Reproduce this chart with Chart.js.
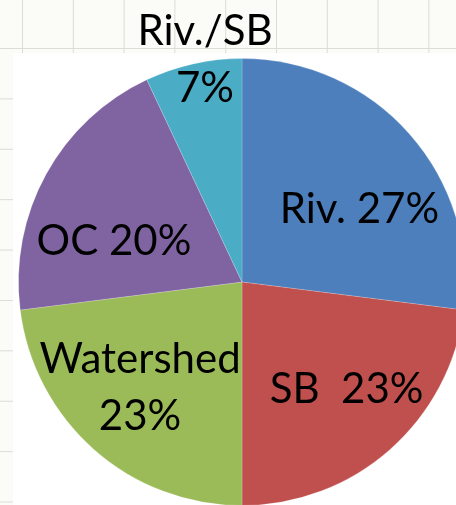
<!DOCTYPE html>
<html>
<head>
<meta charset="utf-8">
<script src="https://cdn.jsdelivr.net/npm/chart.js@4.4.0/dist/chart.umd.min.js"></script>
<style>
  html, body { margin: 0; padding: 0; width: 456px; height: 505px; overflow: hidden; }
  body {
    position: relative;
    background-color: #fbfbf8;
    background-image:
      linear-gradient(to right, #dcdcd6 1px, transparent 1px),
      linear-gradient(to bottom, #dcdcd6 1px, transparent 1px);
    background-size: 50.8px 50.4px;
    background-position: 22px 48px;
  }
  #panel { position: absolute; left: 13px; top: 53px; right: 0; bottom: 0; background: #ffffff; }
  #wrap { position: absolute; left: 0; top: 0; width: 484px; height: 564px; }
</style>
</head>
<body>
<div id="panel"></div>
<div id="wrap"><canvas id="myChart"></canvas></div>
<script>
// slices, clockwise from 12 o'clock
const categories = ['Riv.', 'SB', 'Watershed', 'OC', 'Riv./SB'];
const shares = [27, 23, 23, 20, 7];
// text as it appears on each slice
const sliceText = [['Riv. 27%'], ['SB  23%'], ['Watershed', '23%'], ['OC 20%'], ['Riv./SB', '7%']];

const sliceColors = ['#4c7fbc', '#c0504d', '#9bbb59', '#8064a2', '#4bacc6'];
// where the label sits: fraction of radius, and turn (deg) from the slice middle
const labelDist = [0.62, 0.665, 0.652, 0.603, 1.013];
const labelTurn = [9.3, -3.3, 3, -10.6, 3.2];

const sliceLabels = {
  id: 'sliceLabels',
  afterDatasetsDraw(chart) {
    const ctx = chart.ctx;
    const arcs = chart.getDatasetMeta(0).data;
    const size = 42;
    const lineH = 57;
    ctx.save();
    ctx.font = size + 'px Lato';
    ctx.fillStyle = '#000000';
    ctx.textAlign = 'center';
    ctx.textBaseline = 'alphabetic';
    arcs.forEach(function(arc, i){
      const p = arc.getProps(['x', 'y', 'startAngle', 'endAngle', 'outerRadius'], true);
      const mid = (p.startAngle + p.endAngle) / 2 + labelTurn[i] * Math.PI / 180;
      const cx = p.x + Math.cos(mid) * p.outerRadius * labelDist[i];
      const cy = p.y + Math.sin(mid) * p.outerRadius * labelDist[i];
      const lines = sliceText[i];
      const top = cy - (lines.length - 1) * lineH / 2;
      lines.forEach(function(t, k){
        ctx.fillText(t, cx, top + k * lineH + size * 0.36);
      });
    });
    ctx.restore();
  }
};

const ctx = document.getElementById('myChart').getContext('2d');
const myChart = new Chart(ctx, {
  type: 'pie',
  data: {
    labels: categories,
    datasets: [{
      data: shares,
      backgroundColor: sliceColors,
      borderColor: 'rgba(255,255,255,0.18)',
      borderWidth: 1
    }]
  },
  options: {
    responsive: true,
    maintainAspectRatio: false,
    animation: false,
    layout: { padding: { left: 18, right: 18, top: 58, bottom: 58 } },
    plugins: {
      legend: { display: false },
      tooltip: { enabled: false }
    }
  },
  plugins: [sliceLabels]
});
</script>
</body>
</html>
